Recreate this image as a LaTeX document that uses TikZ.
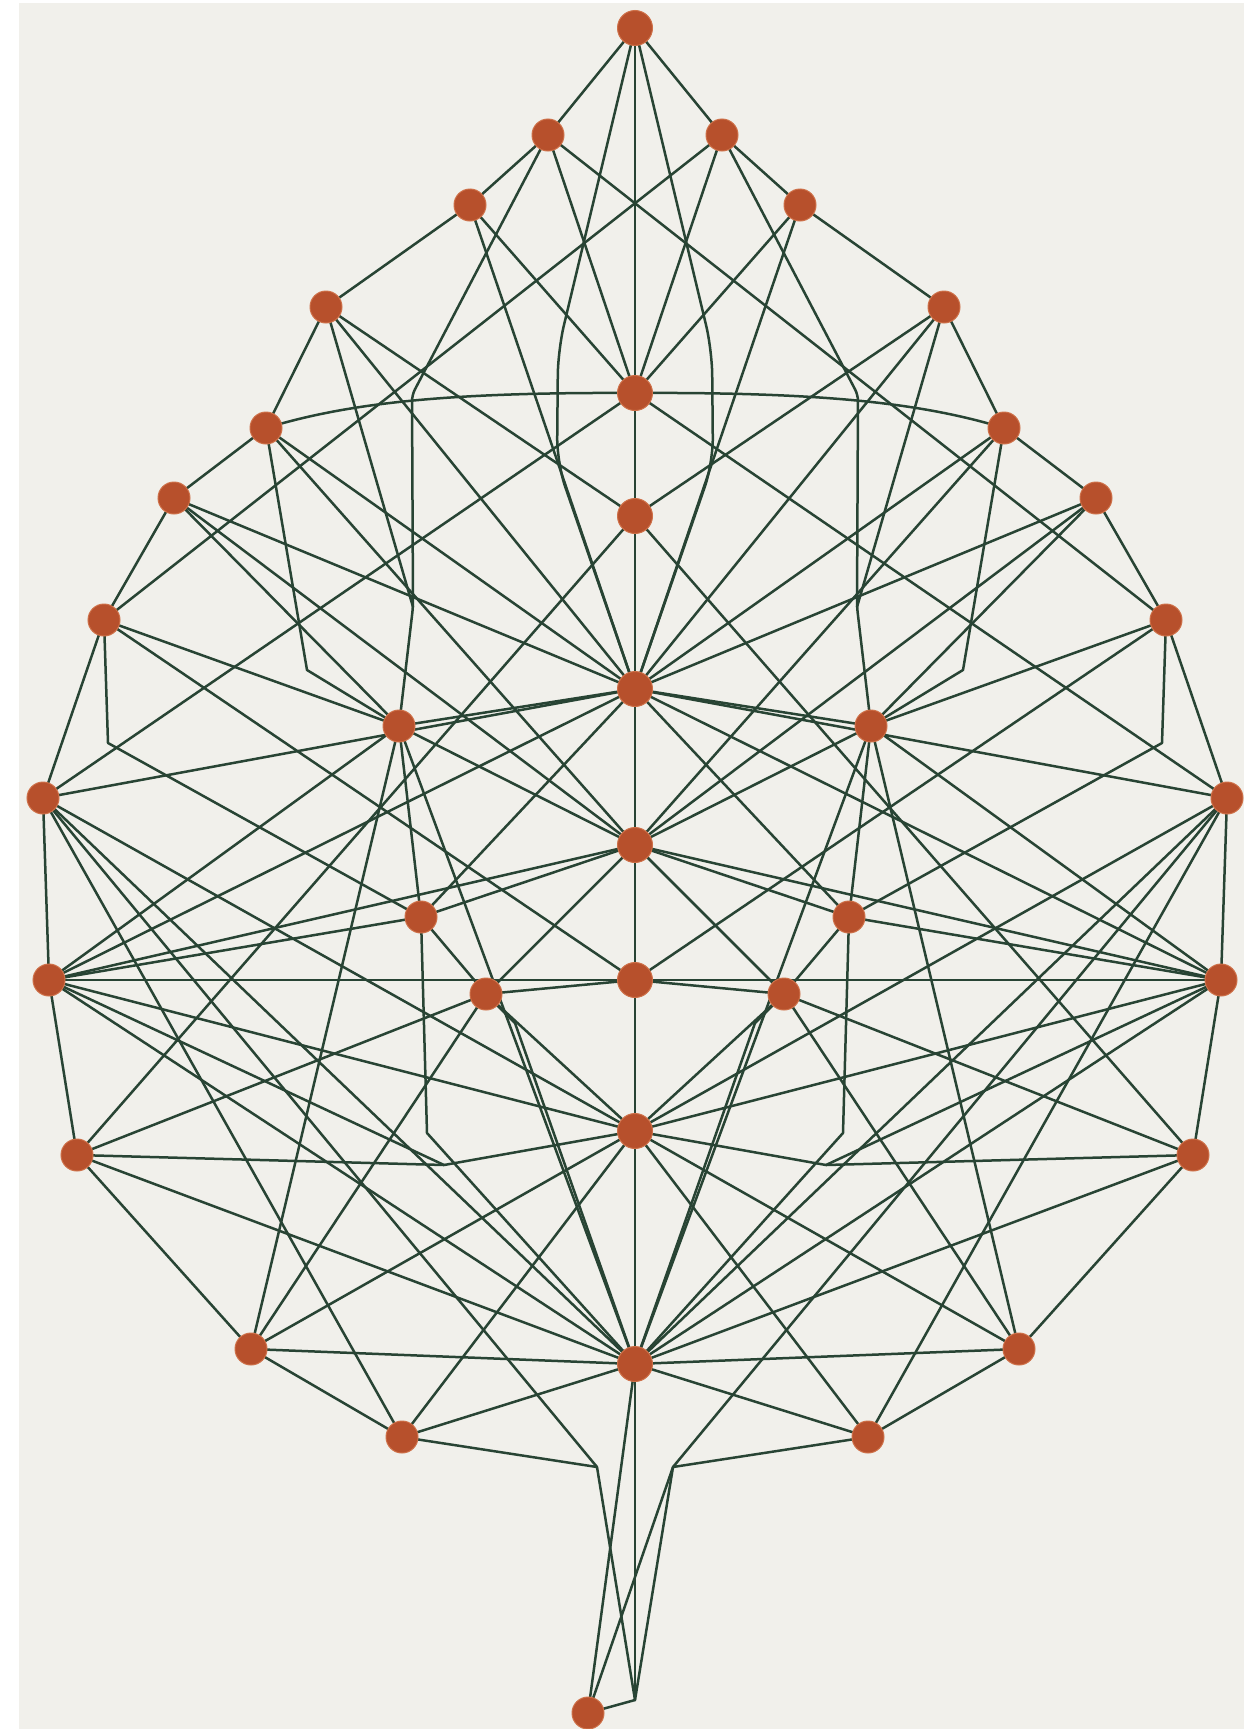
\documentclass[tikz,border=0pt]{standalone}
\definecolor{bgc}{RGB}{241,240,235}
\definecolor{lnc}{RGB}{40,68,52}
\definecolor{dotc}{RGB}{183,80,44}
\definecolor{dotr}{RGB}{206,112,72}
\begin{document}
\begin{tikzpicture}[x=1pt,y=-1pt,
  edge/.style={draw=lnc,line width=2.5pt,line cap=round,line join=round},
  dot/.style={circle,fill=dotc,draw=dotr,line width=1pt,inner sep=0pt,minimum size=32pt},
  cdot/.style={dot,minimum size=35pt}]
\useasboundingbox (0,0) rectangle (1256,1729);
\fill[white] (0,0) rectangle (1256,1729);
\fill[bgc] (19,3) rectangle (1244,1729);
% centre line points
\foreach \n/\y in {T/28,m1/393,m2/516,m3/689,m4/845,m5/980,m6/1131,m7/1364,KK/1700}{
  \coordinate (L\n) at (635,\y); \coordinate (R\n) at (635,\y);}
\coordinate (S) at (588,1713);
% side points (left given, right mirrored)
\foreach \n/\x/\y in {a/548/135,b/470/205,c/326/307,d/266/428,e/174/498,f/104/620,
  g/399/726,h/43/798,i/421/917,j/49/980,k/486/994,l/77/1155,n/251/1349,o/402/1437,
  s/597/1467,q1/412/395,q2/413/607,tB/558/350,tC/557/463,kn/307/670,fk/108/743,
  bl/444/1165,kk/515/1023,ib/427/1133,c1/345/404,c2/440/392}{
  \coordinate (L\n) at (\x,\y); \coordinate (R\n) at ({1270-\x},\y);}
% straight connectors
\foreach \u/\v in {T/a,a/b,b/c,c/d,d/e,e/f,f/h,h/j,j/l,l/n,n/o,o/s,
  a/m1,b/m1,h/m1,c/m2,m2/l,b/m3,c/m3,e/m3,d/m3,h/m3,g/m3,j/m3,e/m4,m4/i,d/m4,
  e/g,f/g,j/g,j/m4,j/m5,j/m6,j/m7,h/m6,h/m7,g/m7,m6/k,m5/k,m4/k,i/k,i/g,i/m3,
  n/m7,o/m7,o/h,h/s,k/l,j/i,l/m7,n/g,n/m6,n/k,o/m6,f/m5,g/m4}{
  \draw[edge] (L\u) -- (L\v); \draw[edge] (R\u) -- (R\v);}
% bent connectors
\foreach \s in {L,R}{
  \draw[edge,rounded corners=25pt] (\s T) -- (\s tB) -- (\s tC) -- (\s m3);
  \draw[edge,rounded corners=6pt] (\s a) -- (\s q1) -- (\s q2) -- (\s g);
  \draw[edge] (\s c) -- (\s q2);
  \draw[edge] (\s d) -- (\s kn) -- (\s g);
  \draw[edge] (\s f) -- (\s fk) -- (\s i);
  \draw[edge] (\s l) -- (\s bl) -- (\s m6);
  \draw[edge] (\s j) -- (\s bl);
  \draw[edge] (\s k) -- (\s kk) -- (\s m7);
  \draw[edge] (\s i) -- (\s ib) -- (\s m7);
  \draw[edge] (\s d) .. controls (\s c1) and (\s c2) .. (\s m1);
}
\draw[edge] (La) -- (Rf); \draw[edge] (Ra) -- (Lf);
% spine and stem
\draw[edge] (LT) -- (Lm1) -- (Lm2) -- (Lm3) -- (Lm4) -- (Lm5) -- (Lm6) -- (Lm7) -- (LKK);
\draw[edge] (Ls) -- (LKK); \draw[edge] (Rs) -- (S); \draw[edge] (Rs) -- (LKK);
\draw[edge] (Lm7) -- (S); \draw[edge] (LKK) -- (S);
% dots
\foreach \s in {L,R}{
  \foreach \n in {a,b,c,d,e,f,g,h,i,j,k,l,n,o}{
    \node[dot] (dot\s\n) at (\s\n) {};}}
\foreach \n in {T,m1,m2,m3,m4,m5,m6,m7}{
  \node[cdot] (dot\n) at (L\n) {};}
\node[dot] (dotS) at (S) {};
\end{tikzpicture}
\end{document}
